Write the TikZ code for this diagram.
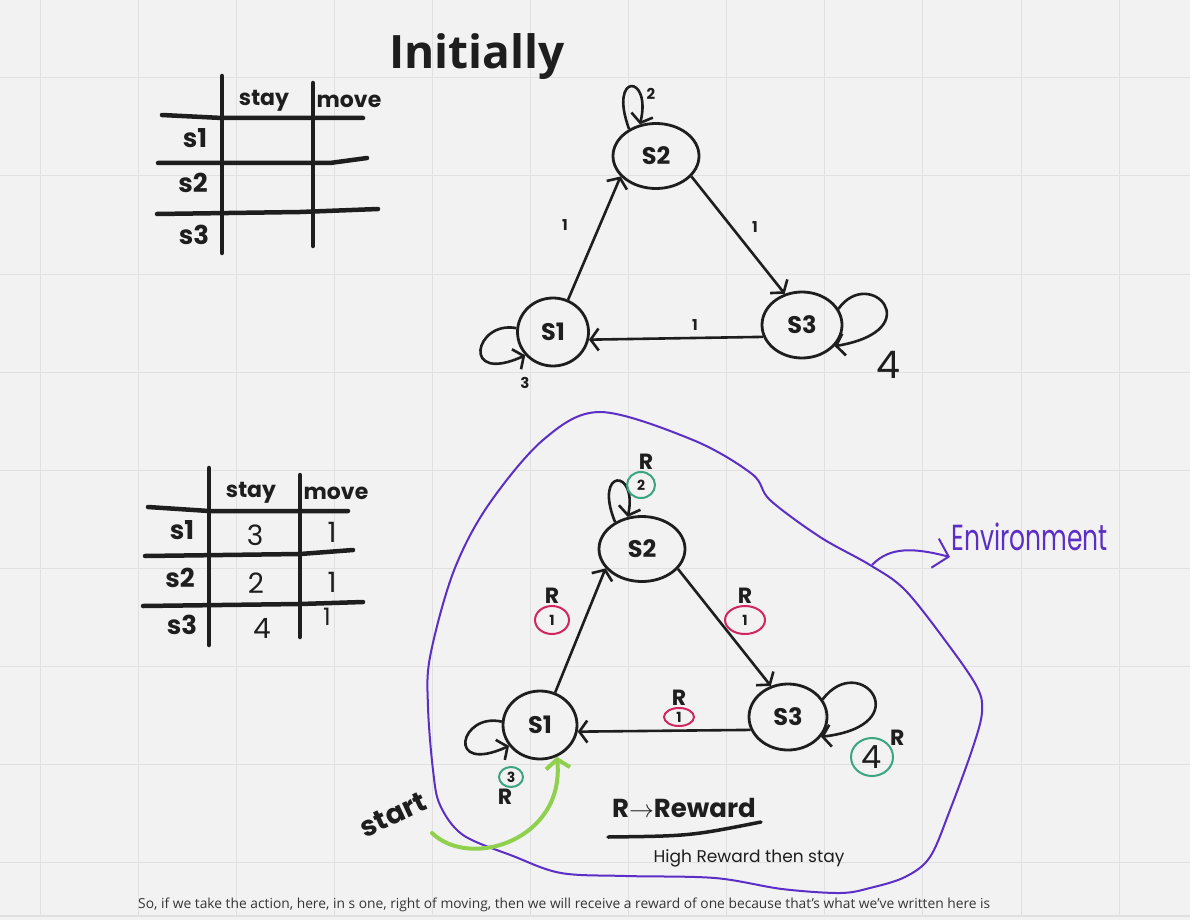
\documentclass[tikz,border=0pt]{standalone}
\usepackage{fontspec}
\setmainfont{Open Sans}
\newfontfamily\hand{Poppins}
\usepackage{graphicx}
\usetikzlibrary{arrows.meta,shapes.geometric}
\definecolor{ink}{HTML}{1E1E1E}
\definecolor{paper}{HTML}{F2F2F2}
\definecolor{gridline}{HTML}{E0E0E0}
\definecolor{envpurple}{HTML}{5B2EC6}
\definecolor{rewardred}{HTML}{D22560}
\definecolor{rewardgreen}{HTML}{3AA57E}
\definecolor{startgreen}{HTML}{8FD14F}

\tikzset{
  tableline/.style={line width=4.5pt, draw=ink, line cap=round, line join=round},
  handtext/.style={text=ink, inner sep=1pt, font=\hand\bfseries\fontsize{#1}{#1}\selectfont},
  handtext/.default=24,
  pentext/.style={text=ink, inner sep=1pt, font=\hand\fontsize{#1}{#1}\selectfont},
  state/.style={ellipse, draw=ink, line width=2.8pt, inner sep=0pt, text=ink,
    font=\hand\bfseries\fontsize{24}{24}\selectfont},
  edge/.style={line width=2.6pt, draw=ink, -{Straight Barb[length=8pt,width=22pt]}},
  reward/.style={ellipse, line width=2pt, inner sep=0pt, text=ink,
    font=\hand\bfseries\fontsize{14}{14}\selectfont},
  rlabel/.style={text=ink, inner sep=1pt, font=\hand\bfseries\fontsize{22}{22}\selectfont},
  envline/.style={line width=2pt, draw=envpurple},
}

\begin{document}
\begin{tikzpicture}[x=1pt, y=-1pt]
    % Paper and grid
    \fill[paper] (0,0) rectangle (1190,920);
    \useasboundingbox (0,0) rectangle (1190,920);
    \foreach \i in {0,...,11}
        \draw[gridline, line width=1pt] ({40+98.1*\i},0) -- ({40+98.1*\i},916);
    \foreach \j in {0,...,8}
        \draw[gridline, line width=1pt] (0,{78+98*\j}) -- (1190,{78+98*\j});
    \draw[gridline, line width=1.5pt] (0,916) -- (1190,916);

    % Title
    \node[text=ink, font=\bfseries\fontsize{46}{46}\selectfont] (title) at (477,57) {Initially};

    % Empty table
    \draw[tableline] (222,76) -- (222,253);
    \draw[tableline] (313,83) -- (313,246);
    \draw[tableline] (162,115) -- (222,118) -- (363,118);
    \draw[tableline] (158,163) -- (330,163) -- (367,158);
    \draw[tableline] (157,214) -- (300,212) -- (378,209);
    \node[handtext=22] (staytop) at (264,101) {stay};
    \node[handtext=22] (movetop) at (349,101) {move};
    \node[handtext=26] (s1top) at (195,138) {s1};
    \node[handtext=26] (s2top) at (193,183) {s2};
    \node[handtext=26] (s3top) at (194,235) {s3};

    % Filled table
    \draw[tableline] (209,468) -- (209,645);
    \draw[tableline] (300,475) -- (300,637);
    \draw[tableline] (148,507) -- (209,511) -- (348,511);
    \draw[tableline] (145,556) -- (300,554) -- (353,550);
    \draw[tableline] (143,606) -- (300,604) -- (363,602);
    \node[handtext=22] (staybot) at (251,493) {stay};
    \node[handtext=22] (movebot) at (336,493) {move};
    \node[handtext=26] (s1bot) at (182,530) {s1};
    \node[handtext=26] (s2bot) at (180,578) {s2};
    \node[handtext=26] (s3bot) at (182,625) {s3};
    \node[pentext=28] (q1stay) at (255,535) {3};
    \node[pentext=28] (q1move) at (332,532) {1};
    \node[pentext=28] (q2stay) at (256,583) {2};
    \node[pentext=28] (q2move) at (332,582) {1};
    \node[pentext=28] (q3stay) at (262,628) {4};
    \node[pentext=24] (q3move) at (327,617) {1};

    % Top graph: states
    \node[state, minimum width=86pt, minimum height=65pt] (s2) at (656,156) {S2};
    \node[state, minimum width=71pt, minimum height=68pt] (s1) at (553,332) {S1};
    \node[state, minimum width=80pt, minimum height=66pt] (s3) at (802,325) {S3};

    % Top graph: moves and stays
    \draw[edge] (s1.65) -- (s2.210);
    \draw[edge] (s2.330) -- (s3.119);
    \draw[edge] (s3.197) -- (s1.348);
    \draw[edge] (s2.135) .. controls (608,72) and (652,74) .. (s2.117);
    \draw[edge] (s1.174) .. controls (475,320) and (460,385) .. (s1.220);
    \draw[edge] (s3.24) .. controls (870,265) and (930,330) .. (s3.327);
    \node[handtext=15] (w12) at (565,225) {1};
    \node[handtext=15] (w23) at (755,227) {1};
    \node[handtext=15] (w31) at (695,325) {1};
    \node[handtext=15] (w22) at (651,94) {2};
    \node[handtext=15] (w11) at (525,383) {3};
    \node[pentext=38] (w33) at (888,365) {4};

    % Environment outline
    \draw[envline] plot[smooth cycle, tension=0.55] coordinates {
        (600,412) (693,440) (752,474) (770,500) (820,537) (870,565) (905,590)
        (947,643) (977,687) (982,712) (973,747) (950,810) (930,857) (905,877)
        (870,888) (840,893) (782,889) (715,878) (626,876) (561,873) (513,856)
        (463,835) (440,805) (433,770) (428,707) (430,657) (453,573) (487,507)
        (543,440)};
    \coordinate (blobpt) at (872,565);
    \node[text=envpurple, inner sep=1pt, anchor=west, font=\hand\fontsize{25}{25}\selectfont]
        (env) at (950,537) {\scalebox{1}[1.45]{Environment}};
    \draw[envline, -{Straight Barb[length=14pt,width=30pt]}]
        (blobpt) .. controls (890,546) and (915,548) .. (env.west |- 0,557);

    % Bottom graph: states
    \node[state, minimum width=86pt, minimum height=65pt] (bs2) at (642,549) {S2};
    \node[state, minimum width=74pt, minimum height=68pt] (bs1) at (540,725) {S1};
    \node[state, minimum width=78pt, minimum height=66pt] (bs3) at (788,717) {S3};

    % Bottom graph: moves and stays
    \draw[edge] (bs1.65) -- (bs2.208);
    \draw[edge] (bs2.331) -- (bs3.119);
    \draw[edge] (bs3.199) -- (bs1.350);
    \draw[edge] (bs2.135) .. controls (593,468) and (638,468) .. (bs2.114);
    \draw[edge] (bs1.175) .. controls (460,712) and (445,775) .. (bs1.214);
    \draw[edge] (bs3.27) .. controls (860,650) and (920,725) .. (bs3.329);

    % Rewards
    \node[reward, draw=rewardred, minimum width=34pt, minimum height=28pt,
        label={[rlabel]above:R}] (r12) at (552,620) {1};
    \node[reward, draw=rewardred, minimum width=40pt, minimum height=28pt,
        label={[rlabel]above:R}] (r23) at (745,620) {1};
    \node[reward, draw=rewardred, minimum width=30pt, minimum height=18pt,
        label={[rlabel]above:R}] (r31) at (679,717) {1};
    \node[reward, draw=rewardgreen, minimum width=28pt, minimum height=26pt,
        label={[rlabel, xshift=5pt]above:R}] (r22) at (641,485) {2};
    \node[reward, draw=rewardgreen, minimum width=24pt, minimum height=20pt,
        label={[rlabel, xshift=-6pt]below:R}] (r11) at (511,777) {3};
    \node[reward, draw=rewardgreen, minimum width=42pt, minimum height=38pt,
        font=\hand\fontsize{32}{32}\selectfont,
        label={[rlabel, xshift=2pt, yshift=-4pt]above right:R}] (r33) at (872,757) {4};

    % Start marker
    \node[handtext=28, rotate=25] (start) at (393,815) {start};
    \coordinate (startpt) at (432,833);
    \draw[startgreen, line width=4pt, line cap=round, -{Straight Barb[length=9pt,width=24pt]}]
        (startpt) .. controls (470,870) and (565,840) .. (bs1.298);

    % Legend
    \node[handtext=26] (rkey) at (684,808) {R$\rightarrow$Reward};
    \draw[ink, line width=3.5pt, line cap=round] (608,837) .. controls (690,836) .. (761,822);
    \node[pentext=17] (rnote) at (749,858) {High Reward then stay};

    % Caption
    \node[anchor=west, inner sep=0pt, text=ink!90, font=\fontsize{13.8}{16}\selectfont]
        (caption) at (138,905) {So, if we take the action, here, in s one, right of moving, then we will receive a reward of one because that's what we've written here is};
\end{tikzpicture}
\end{document}
